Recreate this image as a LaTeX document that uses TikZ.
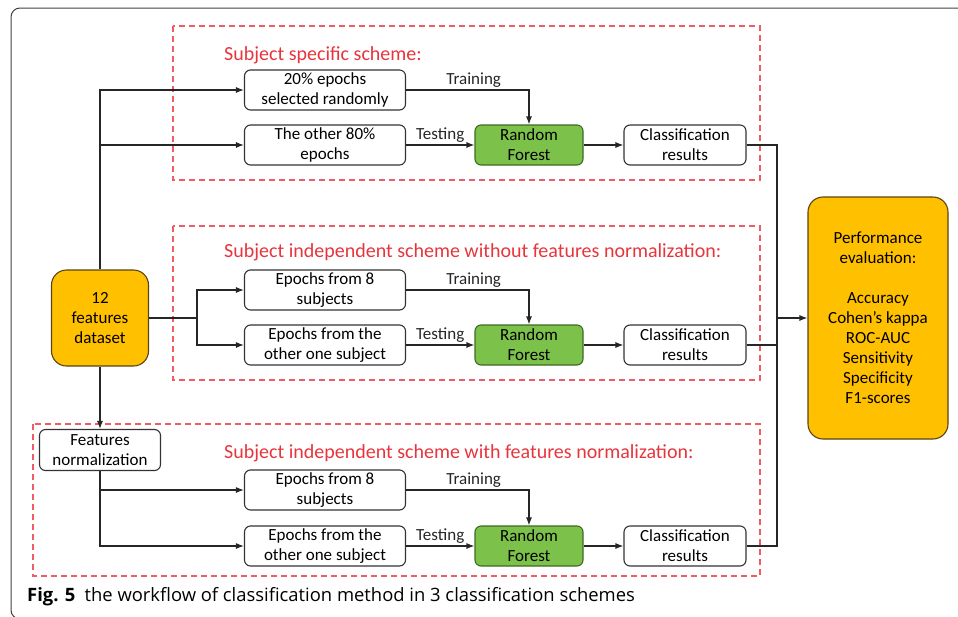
\documentclass[tikz,border=0pt]{standalone}
\usepackage{fontspec}
\setmainfont{Carlito}
\newfontfamily\capfont{Open Sans}
\usepackage{xcolor}
\usetikzlibrary{arrows.meta}
\definecolor{schemered}{HTML}{E8343C}
\definecolor{boxorange}{HTML}{FFC000}
\definecolor{orangeedge}{HTML}{5A4410}
\definecolor{boxgreen}{HTML}{7CC24A}
\definecolor{greenedge}{HTML}{3E6A22}

\begin{document}
\begin{tikzpicture}[x=1pt,y=-1pt,
	stepbox/.style={draw=black!80, line width=1.1pt, rounded corners=6pt, fill=white,
		align=center, font=\fontsize{17}{20}\selectfont, inner sep=0pt},
	rfbox/.style={stepbox, fill=boxgreen, draw=greenedge, minimum width=108pt, minimum height=40pt},
	resbox/.style={stepbox, minimum width=122pt, minimum height=40pt},
	epbox/.style={stepbox, minimum width=161pt, minimum height=40pt},
	bigbox/.style={stepbox, fill=boxorange, draw=orangeedge, rounded corners=15pt},
	scheme/.style={draw=schemered!80, dashed, dash pattern=on 6pt off 4pt, line width=1.2pt},
	title/.style={anchor=west, text=schemered, font=\fontsize{20}{22}\selectfont, inner sep=0pt},
	lbl/.style={above, font=\fontsize{17}{18}\selectfont, inner sep=2pt},
	link/.style={line width=1.1pt, black!85},
	arr/.style={link, -{Latex[length=8pt,width=6pt]}}]
	\newcommand\busx{777}
	\clip (0,0) rectangle (958,616);
	\useasboundingbox (0,0) rectangle (958,616);

	% figure frame
	\draw[line width=1pt, black!75, rounded corners=9pt] (11,8) rectangle (1000,619);

	% scheme frames
	\draw[scheme] (173,26) rectangle (760,180);
	\draw[scheme] (173,226) rectangle (760,380);
	\draw[scheme] (33,424) rectangle (760,576);
	\node[title] (t1) at (224,55) {Subject specific scheme:};
	\node[title] (t2) at (224,252) {Subject independent scheme without features normalization:};
	\node[title] (t3) at (224,453) {Subject independent scheme with features normalization:};

	% inputs
	\node[bigbox, minimum width=97pt, minimum height=96pt] (data) at (100,318) {12\\features\\dataset};
	\node[stepbox, minimum width=121pt, minimum height=41pt] (fn) at (100,450) {Features\\normalization};
	\node[bigbox, minimum width=140pt, minimum height=242pt] (perf) at (878,318)
		{Performance\\evaluation:\\[20pt]Accuracy\\Cohen’s kappa\\ROC-AUC\\Sensitivity\\Specificity\\F1-scores};

	% scheme 1
	\node[epbox] (tr1) at (325,90) {20\% epochs\\selected randomly};
	\node[epbox] (te1) at (325,145) {The other 80\%\\epochs};
	\node[rfbox] (rf1) at (529,145) {Random\\Forest};
	\node[resbox] (cr1) at (685,145) {Classification\\results};

	% scheme 2
	\node[epbox] (tr2) at (325,290) {Epochs from 8\\subjects};
	\node[epbox] (te2) at (325,345) {Epochs from the\\other one subject};
	\node[rfbox] (rf2) at (529,345) {Random\\Forest};
	\node[resbox] (cr2) at (685,345) {Classification\\results};

	% scheme 3
	\node[epbox] (tr3) at (325,490) {Epochs from 8\\subjects};
	\node[epbox] (te3) at (325,546) {Epochs from the\\other one subject};
	\node[rfbox] (rf3) at (529,546) {Random\\Forest};
	\node[resbox] (cr3) at (685,546) {Classification\\results};

	\coordinate (split) at (197,318);
	\coordinate (bus) at (\busx,318);

	% connectors
	\draw[arr] (data.north) |- (tr1.west);
	\draw[arr] (data.north |- te1) -- (te1.west);
	\draw[link] (data.east) -- (split);
	\draw[arr] (split) |- (tr2.west);
	\draw[arr] (split) |- (te2.west);
	\draw[arr] (data.south) -- (fn.north);
	\draw[arr] (fn.south) |- (tr3.west);
	\draw[arr] (fn.south) |- (te3.west);

	\foreach \i in {1,2,3} {
		\draw[arr] (tr\i.east) -- node[lbl, pos=0.55] {Training} (rf\i.north |- tr\i) -- (rf\i.north);
		\draw[arr] (te\i.east) -- node[lbl] {Testing} (rf\i.west);
		\draw[arr] (rf\i.east) -- (cr\i.west);
		\draw[link] (cr\i.east) -| (bus);
	}
	\draw[arr] (bus) -- (perf.west);

	% caption
	\node[anchor=west, inner sep=0pt, font=\capfont\fontsize{18.4}{20}\selectfont] (cap) at (27,597)
		{\textbf{Fig. 5}\enspace the workflow of classification method in 3 classification schemes};
\end{tikzpicture}
\end{document}
